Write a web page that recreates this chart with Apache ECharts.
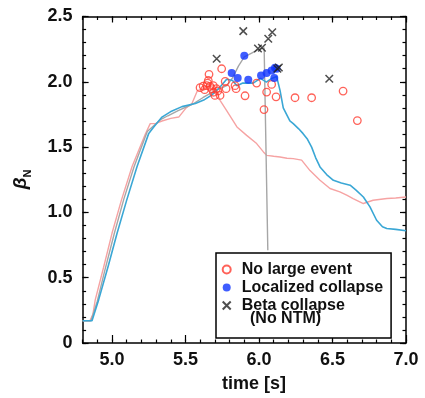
<!DOCTYPE html>
<html>
<head>
<meta charset="utf-8">
<script src="https://cdn.jsdelivr.net/npm/echarts@6/dist/echarts.min.js"></script>
<style>html,body{margin:0;padding:0;background:#fff}#c{width:425px;height:398px}</style>
</head>
<body>
<div id="c"></div>
<script>
// ---- data ----
const xTickLabels = ['5.0', '5.5', '6.0', '6.5', '7.0'];
const yTickLabels = ['0', '0.5', '1.0', '1.5', '2.0', '2.5'];

const pinkTrace = [
  [4.80,0.17],[4.85,0.17],[4.87,0.22],[4.886,0.33],[4.943,0.58],[5.00,0.84],[5.063,1.09],[5.136,1.35],
  [5.227,1.60],[5.26,1.68],[5.295,1.68],[5.34,1.70],[5.40,1.72],[5.454,1.73],[5.50,1.795],[5.544,1.834],
  [5.58,1.93],[5.62,1.95],[5.66,1.97],[5.70,1.95],[5.735,1.858],[5.78,1.78],[5.85,1.654],[5.916,1.59],
  [5.984,1.527],[6.03,1.463],[6.052,1.437],[6.10,1.43],[6.143,1.424],[6.19,1.415],[6.233,1.412],[6.29,1.40],
  [6.347,1.32],[6.415,1.246],[6.483,1.183],[6.55,1.157],[6.60,1.13],[6.64,1.106],[6.71,1.068],[6.776,1.093],
  [6.87,1.106],[6.93,1.11],[7.00,1.118]
];
const grayTrace = [
  [4.80,0.17],[4.857,0.17],[4.90,0.32],[4.95,0.55],[5.016,0.84],[5.08,1.10],[5.15,1.35],[5.24,1.62],
  [5.28,1.66],[5.33,1.71],[5.38,1.74],[5.45,1.78],[5.55,1.83],[5.62,1.88],[5.70,1.93],[5.78,1.97],
  [5.82,2.03],[5.86,2.12],[5.90,2.19],[5.95,2.22],[6.00,2.25],[6.035,2.26],[6.06,0.71]
];
const blueTrace = [
  [4.80,0.17],[4.864,0.17],[4.909,0.33],[4.973,0.584],[5.034,0.839],[5.10,1.094],[5.17,1.349],[5.25,1.605],
  [5.284,1.654],[5.34,1.73],[5.397,1.77],[5.476,1.81],[5.567,1.834],[5.624,1.86],[5.68,1.90],[5.735,1.96],
  [5.78,2.02],[5.82,2.01],[5.85,1.97],[5.89,1.99],[5.96,1.99],[6.01,2.026],[6.05,1.998],[6.086,2.026],
  [6.12,2.04],[6.13,2.036],[6.143,1.934],[6.165,1.80],[6.21,1.70],[6.233,1.68],[6.27,1.64],[6.30,1.603],
  [6.33,1.56],[6.358,1.50],[6.385,1.42],[6.415,1.348],[6.46,1.29],[6.506,1.246],[6.56,1.225],[6.62,1.208],
  [6.66,1.17],[6.71,1.118],[6.755,1.042],[6.80,0.94],[6.84,0.89],[6.869,0.877],[6.93,0.87],[7.00,0.859]
];
const noLargeEvent = [
  [5.599,1.955],[5.62,1.967],[5.63,1.94],[5.644,1.97],[5.65,1.99],[5.655,2.01],[5.66,2.057],[5.667,1.965],
  [5.678,1.947],[5.689,1.97],[5.69,1.92],[5.70,1.896],[5.71,1.947],[5.72,1.93],[5.735,1.896],[5.746,2.10],
  [5.77,2.003],[5.776,1.947],[5.837,1.97],[5.844,1.947],[5.905,1.893],[5.984,1.99],[6.034,1.787],[6.052,1.921],
  [6.086,1.98],[6.116,1.885],[6.245,1.878],[6.358,1.878],[6.572,1.929],[6.669,1.703]
];
const localizedCollapse = [
  [5.814,2.067],[5.855,2.03],[5.90,2.20],[5.927,2.016],[6.014,2.049],[6.052,2.067],[6.086,2.087],
  [6.104,2.03],[6.109,2.108],[6.12,2.10]
];
const betaCollapse = [
  [5.712,2.177],[5.893,2.388],[5.993,2.255],[6.02,2.26],[6.063,2.33],[6.09,2.38],[6.125,2.10],[6.135,2.11],
  [6.478,2.024]
];

// ---- chart ----
const FONT = '"Liberation Sans", Arial, Helvetica, sans-serif';
const TXT = { fontFamily: FONT, fontWeight: 'bold', fontSize: 18, color: '#111' };

function ax(opts) {
  const o = {
    type: 'value', gridIndex: opts.grid, position: opts.pos, offset: 0,
    min: opts.min, max: opts.max, interval: opts.interval,
    axisLine: { show: !!opts.line, onZero: false, lineStyle: { color: '#000', width: 1.5 } },
    axisTick: { show: true, inside: true, length: opts.len, lineStyle: { color: '#000', width: 1.2 } },
    axisLabel: opts.labels ? Object.assign({ show: true, margin: 10, formatter: opts.labels }, TXT) : { show: false },
    splitLine: { show: false }
  };
  return o;
}

// grid 0: full plot 4.8..7.0 ; grid 1: same pixels starting at 5.0 (for major ticks)
const xAxes = [
  ax({ grid: 0, pos: 'bottom', min: 4.8, max: 7.0, interval: 0.1, len: 3.5, line: true }),
  ax({ grid: 0, pos: 'top', min: 4.8, max: 7.0, interval: 0.1, len: 3.5, line: true }),
  ax({ grid: 1, pos: 'bottom', min: 5.0, max: 7.0, interval: 0.5, len: 6,
       labels: (v, i) => xTickLabels[i] }),
  ax({ grid: 1, pos: 'top', min: 5.0, max: 7.0, interval: 0.5, len: 6 })
];
xAxes[2].name = 'time [s]';
xAxes[2].nameLocation = 'middle';
xAxes[2].nameGap = 34;
xAxes[2].nameTextStyle = Object.assign({ padding: [0, 10, 0, 0] }, TXT);

const yAxes = [
  ax({ grid: 0, pos: 'left', min: 0, max: 2.5, interval: 0.1, len: 3.5, line: true }),
  ax({ grid: 0, pos: 'right', min: 0, max: 2.5, interval: 0.1, len: 3.5, line: true }),
  ax({ grid: 0, pos: 'left', min: 0, max: 2.5, interval: 0.5, len: 6,
       labels: (v, i) => yTickLabels[i] }),
  ax({ grid: 0, pos: 'right', min: 0, max: 2.5, interval: 0.5, len: 6 }),
  { type: 'value', gridIndex: 1, show: false, min: 0, max: 2.5 }
];

const xSymbol = 'path://M0,0L10,10M10,0L0,10';

const chart = echarts.init(document.getElementById('c'), null, { renderer: 'canvas' });
chart.setOption({
  animation: false,
  backgroundColor: '#fff',
  grid: [
    { left: 82.6, right: 19, top: 16.5, bottom: 55, containLabel: false },
    { left: 112, right: 19, top: 16.5, bottom: 55, containLabel: false }
  ],
  xAxis: xAxes,
  yAxis: yAxes,
  legend: {
    orient: 'vertical', left: 216, top: 253,
    padding: [8.5, 8, 24.5, 5.7],
    itemWidth: 20, itemHeight: 8, itemGap: 2,
    borderColor: '#000', borderWidth: 1.5, backgroundColor: '#fff',
    data: ['No large event', 'Localized collapse', 'Beta collapse'],
    textStyle: { fontFamily: FONT, fontWeight: 'bold', fontSize: 16, lineHeight: 15, color: '#111' }
  },
  graphic: [
    {
      type: 'text', left: 250, top: 311, z: 100,
      style: { text: '(No NTM)', fontFamily: FONT, fontWeight: 'bold', fontSize: 16, fill: '#111' }
    },
    {
      type: 'text', x: 21, y: 179.5, rotation: Math.PI / 2, z: 100,
      style: {
        text: '{b|β}{n|N}', align: 'center', verticalAlign: 'middle',
        rich: {
          b: { fontFamily: FONT, fontStyle: 'italic', fontWeight: 'bold', fontSize: 19, lineHeight: 24, fill: '#111', verticalAlign: 'middle' },
          n: { fontFamily: FONT, fontWeight: 'bold', fontSize: 11, lineHeight: 24, fill: '#111', verticalAlign: 'bottom' }
        }
      }
    }
  ],
  series: [
    { type: 'line', data: pinkTrace, xAxisIndex: 0, yAxisIndex: 0, showSymbol: false, silent: true, z: 2,
      lineStyle: { color: '#f6a3a3', width: 1.4 } },
    { type: 'line', data: grayTrace, xAxisIndex: 0, yAxisIndex: 0, showSymbol: false, silent: true, z: 2,
      lineStyle: { color: '#a6a6a6', width: 1.4 } },
    { type: 'line', data: blueTrace, xAxisIndex: 0, yAxisIndex: 0, showSymbol: false, silent: true, z: 3,
      lineStyle: { color: '#3aa7d5', width: 1.6 } },
    { name: 'No large event', type: 'scatter', data: noLargeEvent, xAxisIndex: 0, yAxisIndex: 0,
      symbol: 'circle', symbolSize: 7.5, z: 4,
      itemStyle: { color: 'rgba(255,255,255,0)', borderColor: '#ff3b30', borderWidth: 1.3 } },
    { name: 'Localized collapse', type: 'scatter', data: localizedCollapse, xAxisIndex: 0, yAxisIndex: 0,
      symbol: 'circle', symbolSize: 8, z: 5, itemStyle: { color: '#0f35ff' } },
    { name: 'Beta collapse', type: 'scatter', data: betaCollapse, xAxisIndex: 0, yAxisIndex: 0,
      symbol: xSymbol, symbolSize: 7.5, z: 6,
      itemStyle: { color: 'rgba(0,0,0,0)', borderColor: '#222', borderWidth: 1.5 } }
  ]
});
</script>
</body>
</html>
